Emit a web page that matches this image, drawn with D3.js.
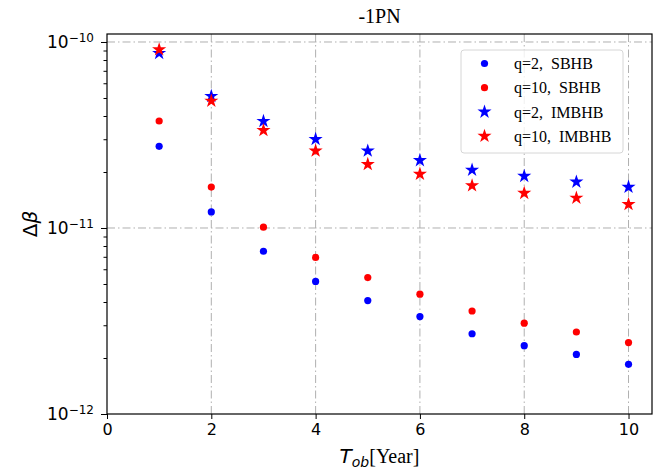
<!DOCTYPE html>
<html>
<head>
<meta charset="utf-8">
<script src="https://cdn.jsdelivr.net/npm/d3@7"></script>
<style>
  body { margin: 0; background: #fff; }
  svg { display: block; }
  .tick text { font-family: "DejaVu Sans", sans-serif; }
</style>
</head>
<body>
<div id="chart"></div>
<script>
// observation time in years
const years = [1, 2, 3, 4, 5, 6, 7, 8, 9, 10];

const q2Sbhb   = [2.75e-11, 1.22e-11, 7.5e-12, 5.16e-12, 4.07e-12, 3.34e-12, 2.70e-12, 2.33e-12, 2.09e-12, 1.85e-12];
const q10Sbhb  = [3.76e-11, 1.66e-11, 1.01e-11, 6.95e-12, 5.41e-12, 4.41e-12, 3.58e-12, 3.08e-12, 2.76e-12, 2.42e-12];
const q2Imbhb  = [8.70e-11, 5.11e-11, 3.75e-11, 3.00e-11, 2.60e-11, 2.31e-11, 2.05e-11, 1.90e-11, 1.77e-11, 1.66e-11];
const q10Imbhb = [9.10e-11, 4.82e-11, 3.35e-11, 2.60e-11, 2.20e-11, 1.95e-11, 1.69e-11, 1.54e-11, 1.45e-11, 1.34e-11];

const xTicks = [0, 2, 4, 6, 8, 10];
const yDecades = [-12, -11, -10];

const series = [
  { label: "q=2,\u00a0\u00a0SBHB",   values: q2Sbhb,   color: "#0000ff", shape: "circle" },
  { label: "q=10,\u00a0\u00a0SBHB",  values: q10Sbhb,  color: "#ff0000", shape: "circle" },
  { label: "q=2,\u00a0\u00a0IMBHB",  values: q2Imbhb,  color: "#0000ff", shape: "star" },
  { label: "q=10,\u00a0\u00a0IMBHB", values: q10Imbhb, color: "#ff0000", shape: "star" }
];

const width = 665, height = 474;
const margin = { top: 34, right: 13, bottom: 60, left: 107 };
const innerW = width - margin.left - margin.right;
const innerH = height - margin.top - margin.bottom;

const svg = d3.select("#chart").append("svg")
  .attr("width", width).attr("height", height);

const x = d3.scaleLinear().domain([0, 10.45]).range([0, innerW]);
const y = d3.scaleLog().domain([1e-12, 1.104e-10]).range([innerH, 0]);

const g = svg.append("g").attr("transform", `translate(${margin.left},${margin.top})`);

// grid
const gridStyle = sel => sel.attr("stroke", "#b0b0b0").attr("stroke-width", 1)
  .attr("stroke-dasharray", "8,3,1.5,3");
g.append("g").selectAll("line").data(xTicks.filter(d => d > 0)).join("line")
  .attr("x1", d => x(d)).attr("x2", d => x(d))
  .attr("y1", 0).attr("y2", innerH).call(gridStyle);
g.append("g").selectAll("line").data(yDecades.map(e => Math.pow(10, e)).filter(v => v > 1e-12)).join("line")
  .attr("x1", 0).attr("x2", innerW)
  .attr("y1", d => y(d)).attr("y2", d => y(d)).call(gridStyle);

// axes
const xAxis = d3.axisBottom(x).tickValues(xTicks).tickSize(5).tickPadding(5).tickFormat(d3.format("d"));
const gx = g.append("g").attr("transform", `translate(0,${innerH})`).call(xAxis);
gx.select(".domain").remove();
gx.selectAll(".tick text").attr("font-size", 16).attr("fill", "#000");

const majors = yDecades.map(e => Math.pow(10, e));
const minors = [];
[-12, -11, -10].forEach(e => {
  for (let k = 2; k <= 9; k++) {
    const v = k * Math.pow(10, e);
    if (v <= y.domain()[1]) minors.push(v);
  }
});
const gyMinor = g.append("g").call(d3.axisLeft(y).tickValues(minors).tickSize(3.5).tickFormat(""));
gyMinor.select(".domain").remove();
const gy = g.append("g").call(d3.axisLeft(y).tickValues(majors).tickSize(6).tickPadding(5).tickFormat(""));
gy.select(".domain").remove();
gy.selectAll(".tick").each(function(d) {
  const t = d3.select(this).append("text")
    .attr("x", -13).attr("dy", "0.35em")
    .attr("text-anchor", "end").attr("fill", "#000")
    .attr("font-family", "DejaVu Sans, sans-serif").attr("font-size", 17);
  t.append("tspan").text("10");
  t.append("tspan").attr("dy", "-0.55em").attr("font-size", 12).text("\u2212" + Math.round(-Math.log10(d)));
});

// frame
g.append("rect").attr("width", innerW).attr("height", innerH)
  .attr("fill", "none").attr("stroke", "#000").attr("stroke-width", 1.2);

// markers
const star = d3.symbol().type(d3.symbolStar).size(62);
series.forEach(s => {
  const pts = years.map((yr, i) => ({ x: yr, v: s.values[i] }));
  const layer = g.append("g");
  if (s.shape === "circle") {
    layer.selectAll("circle").data(pts).join("circle")
      .attr("cx", d => x(d.x)).attr("cy", d => y(d.v)).attr("r", 3.6)
      .attr("fill", s.color);
  } else {
    layer.selectAll("path").data(pts).join("path")
      .attr("d", star)
      .attr("transform", d => `translate(${x(d.x)},${y(d.v)})`)
      .attr("fill", s.color);
  }
});

// legend
const lg = g.append("g").attr("transform", `translate(${461 - margin.left},${50 - margin.top})`);
lg.append("rect").attr("width", 162).attr("height", 103).attr("rx", 3)
  .attr("fill", "#fff").attr("fill-opacity", 0.8)
  .attr("stroke", "#d6d6d6").attr("stroke-width", 1);
series.forEach((s, i) => {
  const row = lg.append("g").attr("transform", `translate(0,${13.5 + i * 24.2})`);
  if (s.shape === "circle") {
    row.append("circle").attr("cx", 23.5).attr("cy", 0).attr("r", 3.6).attr("fill", s.color);
  } else {
    row.append("path").attr("d", star).attr("transform", "translate(23.5,0)").attr("fill", s.color);
  }
  row.append("text").attr("x", 53).attr("dy", "0.35em")
    .attr("font-family", "Liberation Serif, serif").attr("font-size", 16)
    .attr("fill", "#000").text(s.label);
});

// title and labels
svg.append("text").attr("x", margin.left + innerW / 2).attr("y", 23)
  .attr("text-anchor", "middle").attr("font-family", "Liberation Serif, serif")
  .attr("font-size", 20).text("-1PN");

const yl = svg.append("text")
  .attr("transform", `translate(37,${margin.top + innerH / 2}) rotate(-90)`)
  .attr("text-anchor", "middle").attr("font-family", "DejaVu Sans, sans-serif")
  .attr("font-size", 20);
yl.append("tspan").text("\u0394");
yl.append("tspan").attr("font-style", "italic").text("\u03b2");

const xl = svg.append("text").attr("x", margin.left + innerW / 2).attr("y", 463)
  .attr("text-anchor", "middle").attr("font-size", 20);
xl.append("tspan").attr("font-family", "DejaVu Sans, sans-serif").attr("font-style", "italic").text("T");
xl.append("tspan").attr("font-family", "DejaVu Sans, sans-serif").attr("font-style", "italic")
  .attr("font-size", 14).attr("dy", 4).text("ob");
xl.append("tspan").attr("font-family", "Liberation Serif, serif").attr("dy", -4).text("[Year]");
</script>
</body>
</html>
